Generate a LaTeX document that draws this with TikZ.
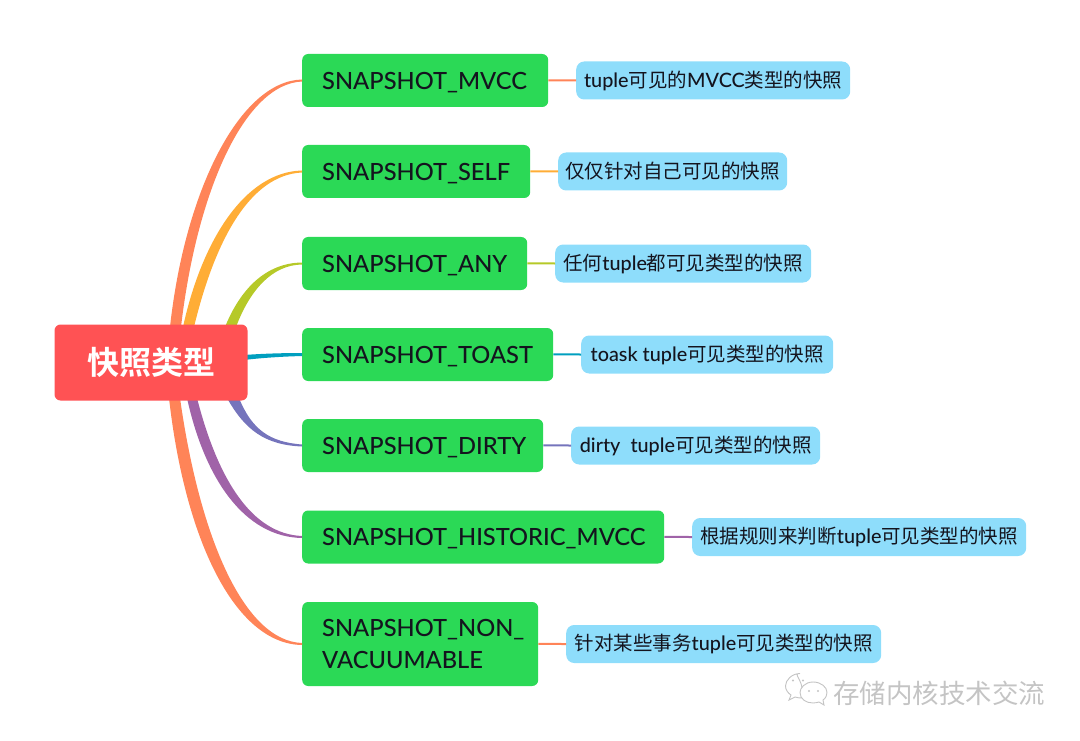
\documentclass[tikz,border=0pt]{standalone}
\usepackage{fontspec}
\setmainfont{Lato}[UprightFont=* Medium]
\newfontfamily\cjk{Noto Sans CJK SC}
\newfontfamily\cjkroot{Noto Sans CJK SC Bold}
\definecolor{cRoot}{HTML}{FF5254}
\definecolor{cGreen}{HTML}{2BD956}
\definecolor{cBlue}{HTML}{8EDDFB}
\definecolor{cInk}{HTML}{14141E}
\definecolor{cA}{HTML}{FF8458}
\definecolor{cB}{HTML}{FFAD36}
\definecolor{cC}{HTML}{B6C928}
\definecolor{cD}{HTML}{009FBF}
\definecolor{cE}{HTML}{7574BC}
\definecolor{cF}{HTML}{A063A8}
\definecolor{cMark}{HTML}{C4C4C4}
\tikzset{
  x=1pt,y=-1pt,
  rootbox/.style={fill=cRoot,rounded corners=6pt,minimum width=193pt,minimum height=76pt,inner sep=0pt,text=white,font=\fontsize{32}{38}\selectfont\cjkroot},
  topicbox/.style={fill=cGreen,rounded corners=6pt,inner xsep=20pt,inner ysep=0pt,minimum height=53pt,text=cInk,align=left,font=\fontsize{23.7}{32}\selectfont},
  oneline/.style={text depth=0pt},
  notebox/.style={fill=cBlue,rounded corners=8pt,inner xsep=6pt,inner ysep=0pt,minimum height=38pt,text=cInk,align=left,font=\fontsize{19.8}{24}\selectfont},
  link/.style={line width=2pt},
}
\newcommand{\cn}[1]{{\fontsize{19.5}{24}\selectfont\cjk #1}}
\begin{document}
\begin{tikzpicture}
\useasboundingbox (0,0) rectangle (1080,741);
\coordinate (rc) at (151,362.5);
% topic nodes
\path
 node[topicbox,oneline,text width=206pt,anchor=west] (t1) at (302,80.5) {SNAPSHOT\_MVCC}
 node[topicbox,oneline,text width=188pt,anchor=west] (t2) at (302,171.5) {SNAPSHOT\_SELF}
 node[topicbox,oneline,text width=185pt,anchor=west] (t3) at (302,263.5) {SNAPSHOT\_ANY}
 node[topicbox,oneline,text width=211pt,anchor=west] (t4) at (302,354.5) {SNAPSHOT\_TOAST}
 node[topicbox,oneline,text width=201pt,anchor=west] (t5) at (302,445.5) {SNAPSHOT\_DIRTY}
 node[topicbox,oneline,text width=322pt,anchor=west] (t6) at (302,537) {SNAPSHOT\_HISTORIC\_MVCC}
 node[topicbox,text width=196pt,anchor=west,minimum height=84pt] (t7) at (302,644) {SNAPSHOT\_NON\_\\VACUUMABLE};
% tapered branches
\fill[cA] (170,327) .. controls (185,190) and (240,81) .. ([yshift=1pt]t1.west) -- ([yshift=-1pt]t1.west) .. controls (245,84) and (197,190) .. (181,327) -- cycle;
\fill[cB] (183,327) .. controls (202,240) and (245,172) .. ([yshift=1pt]t2.west) -- ([yshift=-1pt]t2.west) .. controls (250,175) and (215,240) .. (194,327) -- cycle;
\fill[cC] (225,327) .. controls (240,290) and (265,263) .. ([yshift=1pt]t3.west) -- ([yshift=-1pt]t3.west) .. controls (272,265) and (250,290) .. (236,327) -- cycle;
\fill[cD] (244,355) .. controls (265,353.5) and (285,353) .. ([yshift=1.5pt]t4.west) -- ([yshift=-1.5pt]t4.west) .. controls (285,356.5) and (265,357.5) .. (244,360) -- cycle;
\fill[cE] (227,398) .. controls (245,430) and (265,445) .. ([yshift=-1pt]t5.west) -- ([yshift=1pt]t5.west) .. controls (270,442) and (252,430) .. (239,398) -- cycle;
\fill[cF] (187,398) .. controls (205,480) and (245,537) .. ([yshift=-1pt]t6.west) -- ([yshift=1pt]t6.west) .. controls (252,534) and (218,480) .. (197,398) -- cycle;
\fill[cA] (169,398) .. controls (185,540) and (235,644) .. ([yshift=-1pt]t7.west) -- ([yshift=1pt]t7.west) .. controls (245,641) and (200,540) .. (180,398) -- cycle;
% root
\node[rootbox] (root) at (rc) {快照类型};
% notes
\path
 node[notebox,anchor=west,minimum width=274pt] (n1) at (576,80.5) {tuple\cn{可见的}MVCC\cn{类型的快照}}
 node[notebox,anchor=west,minimum width=229pt] (n2) at (558,171.5) {\cn{仅仅针对自己可见的快照}}
 node[notebox,anchor=west,minimum width=256pt] (n3) at (555,263.5) {\cn{任何}tuple\cn{都可见类型的快照}}
 node[notebox,anchor=west,minimum width=252pt] (n4) at (581,354.5) {toask tuple\cn{可见类型的快照}}
 node[notebox,anchor=west,minimum width=249pt] (n5) at (571,445.5) {dirty\ \ tuple\cn{可见类型的快照}}
 node[notebox,anchor=west,minimum width=334pt] (n6) at (692,537) {\cn{根据规则来判断}tuple\cn{可见类型的快照}}
 node[notebox,anchor=west,minimum width=315pt] (n7) at (566,644) {\cn{针对某些事务}tuple\cn{可见类型的快照}};
\draw[link,cA] ([yshift=0.02pt]t1.east) -- (n1.west);
\draw[link,cB] ([yshift=0.02pt]t2.east) -- (n2.west);
\draw[link,cC] ([yshift=0.02pt]t3.east) -- (n3.west);
\draw[link,cD] ([yshift=0.02pt]t4.east) -- (n4.west);
\draw[link,cE] ([yshift=0.02pt]t5.east) -- (n5.west);
\draw[link,cF] ([yshift=0.02pt]t6.east) -- (n6.west);
\draw[link,cA] ([yshift=0.02pt]t7.east) -- (n7.west);
% watermark
\node[anchor=west,inner sep=0pt,text=cMark,font=\fontsize{26.5}{30}\selectfont\cjk] (wm) at (833,693) {存储内核技术交流};
\begin{scope}[draw=cMark,line width=0.9pt]
\draw[fill=white] (802,689) .. controls (802,680) and (793,673.5) .. (799.5,673.5) (800,673.5) .. controls (792,673.5) and (785.5,680) .. (785.5,686) .. controls (785.5,690) and (788,693) .. (791,695) -- (789,700) -- (795,697) .. controls (798,698) and (800,698) .. (803,698);
\draw[fill=white] (813,682) .. controls (805,682) and (800,688) .. (800,692.5) .. controls (800,699) and (806,703) .. (813,703) .. controls (815,703) and (817,702.5) .. (819,702) -- (824,705) -- (823,700) .. controls (826,698) and (827,695) .. (827,692.5) .. controls (827,687) and (821,682) .. (813,682) -- cycle;
\fill[cMark] (793,680.5) circle (1.1pt) (803,680.5) circle (1.1pt) (809,691) circle (1.1pt) (818,691) circle (1.1pt);
\end{scope}
\end{tikzpicture}
\end{document}
